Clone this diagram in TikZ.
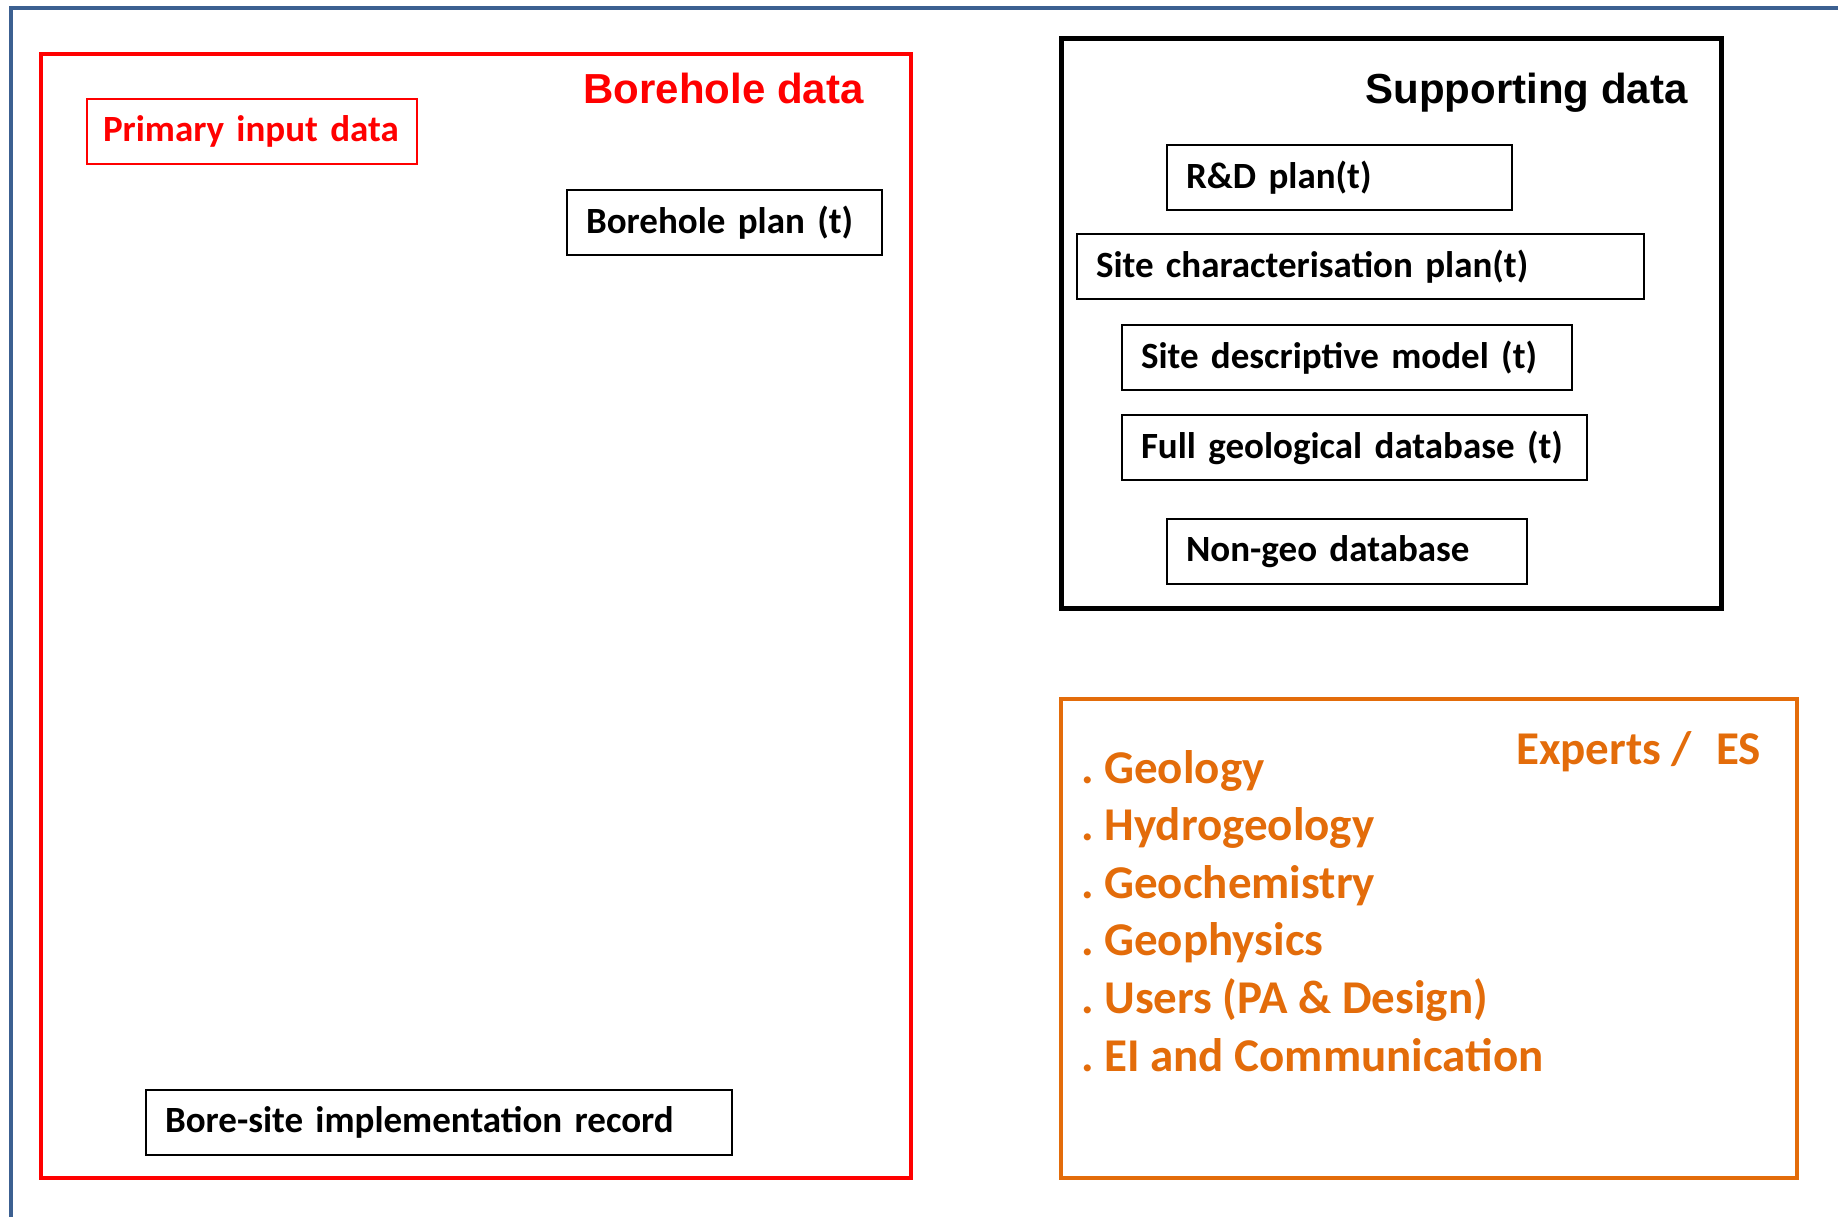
\documentclass[tikz,border=0pt]{standalone}
\usepackage{fontspec}
\newfontfamily\calibri{Carlito}
\newfontfamily\arial{Liberation Sans}
\definecolor{frameblue}{RGB}{60,96,145}
\definecolor{expertorange}{RGB}{227,108,10}
\tikzset{
  databox/.style={draw,line width=2,anchor=north west,align=left,inner xsep=19,
    minimum height=65,font=\calibri\bfseries\fontsize{37}{40}\selectfont},
  heading/.style={anchor=base east,font=\arial\bfseries\fontsize{42}{46}\selectfont},
  expertitem/.style={anchor=base west,text=expertorange,inner sep=0,
    font=\calibri\bfseries\fontsize{47}{50}\selectfont}
}
\begin{document}
\begin{tikzpicture}[x=1pt,y=-1pt]
\useasboundingbox (0,0) rectangle (1838,1217);
% outer frame
\draw[frameblue,line width=4] (10.5,1217) -- (10.5,8.5) -- (1838,8.5);

% borehole data
\draw[red,line width=4] (41,54) rectangle (911,1178);
\node[heading,text=red] (boreholetitle) at (867,104) {Borehole data};
\node[databox,red,text width=298,inner xsep=16] (primary) at (86,98) {Primary input data};
\node[databox,text width=277] (boreplan) at (566,189) {Borehole plan (t)};
\node[databox,text width=548] (boresite) at (145,1089) {Bore-site implementation record};

% supporting data
\draw[line width=5] (1061,39) rectangle (1721,608);
\node[heading] (supporttitle) at (1691,104) {Supporting data};
\node[databox,text width=307] (rdplan) at (1166,144) {R\&D plan(t)};
\node[databox,text width=529] (siteplan) at (1076,233) {Site characterisation plan(t)};
\node[databox,text width=412] (sitemodel) at (1121,324) {Site descriptive model (t)};
\node[databox,text width=427] (geodb) at (1121,414) {Full geological database (t)};
\node[databox,text width=322] (nongeo) at (1166,518) {Non-geo database};

% experts
\draw[expertorange,line width=4] (1061,699) rectangle (1797,1178);
\node[expertitem,anchor=base east] (expertstitle) at (1761,764) {Experts /\hspace{24pt}ES};
\foreach \name/\txt [count=\i] in {geology/Geology,hydro/Hydrogeology,geochem/Geochemistry,
    geophys/Geophysics,users/Users (PA \& Design),ei/EI and Communication}
  \node[expertitem] (\name) at (1081,{783+57.6*(\i-1)}) {.\ \txt};
\end{tikzpicture}
\end{document}
